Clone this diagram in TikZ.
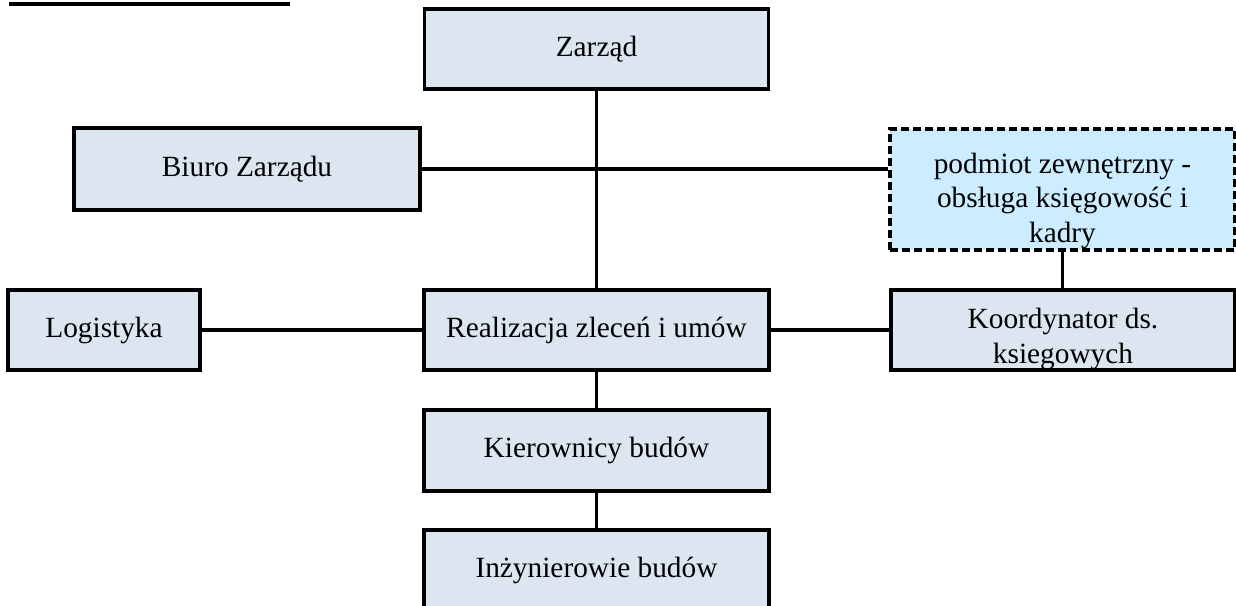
\documentclass[tikz,border=0pt]{standalone}
\usepackage{fontspec}
\setmainfont{Liberation Serif}
\definecolor{boxfill}{RGB}{220,230,241}
\definecolor{extfill}{RGB}{204,236,255}
\tikzset{
	unitfont/.style={font=\fontsize{22}{26}\selectfont, align=center},
	unit/.style={draw, line width=2.5pt, fill=boxfill, inner sep=0pt, unitfont},
	extunit/.style={unit, fill=extfill, dash pattern=on 6pt off 3pt},
	lowtext/.style={unitfont, anchor=center, inner sep=0pt, yshift=#1},
	link/.style={line width=2.4pt}
}

\begin{document}
\begin{tikzpicture}[x=0.75pt, y=-0.75pt]
			%%%%% START %%%%%
			\useasboundingbox (0, 0) rectangle (1236, 606);
			
			\draw[line width=2.4pt] (9, 4) -- (290, 4);
			
			\node[unit, minimum width=258pt, minimum height=60pt] (zarzad) at (596.5, 49) {Zarząd};
			\node[unit, minimum width=259.5pt, minimum height=61.5pt] (biuro) at (247, 169) {Biuro Zarządu};
			\node[extunit, minimum width=258.75pt, minimum height=90.75pt,
				label={[lowtext=-8.5pt]center:{podmiot zewnętrzny -\\obsługa księgowość i\\kadry}}] (podmiot) at (1062.5, 189.5) {};
			
			\node[unit, minimum width=144pt, minimum height=60pt] (logistyka) at (104, 330) {Logistyka};
			\node[unit, minimum width=258.75pt, minimum height=60pt] (realizacja) at (596.5, 330) {Realizacja zleceń i umów};
			\node[unit, minimum width=258pt, minimum height=60pt,
				label={[lowtext=-6.5pt]center:{Koordynator ds.\\ksiegowych}}] (koordynator) at (1063, 330) {};
			
			\node[unit, minimum width=258.75pt, minimum height=60.75pt] (kierownicy) at (596.5, 450.5) {Kierownicy budów};
			\node[unit, minimum width=258.75pt, minimum height=60pt] (inzynierowie) at (596.5, 570) {Inżynierowie budów};
			
			\draw[link] (zarzad.south) -- (zarzad.south |- realizacja.north);
			\draw[link] (biuro.east) -- (biuro.east -| podmiot.west);
			\draw[link] (podmiot.south) -- (podmiot.south |- koordynator.north);
			\draw[link] (logistyka) -- (realizacja);
			\draw[link] (realizacja) -- (koordynator);
			\draw[link] (realizacja) -- (kierownicy);
			\draw[link] (kierownicy) -- (inzynierowie);
			
			%%%%% END %%%%%
\end{tikzpicture}
\end{document}
